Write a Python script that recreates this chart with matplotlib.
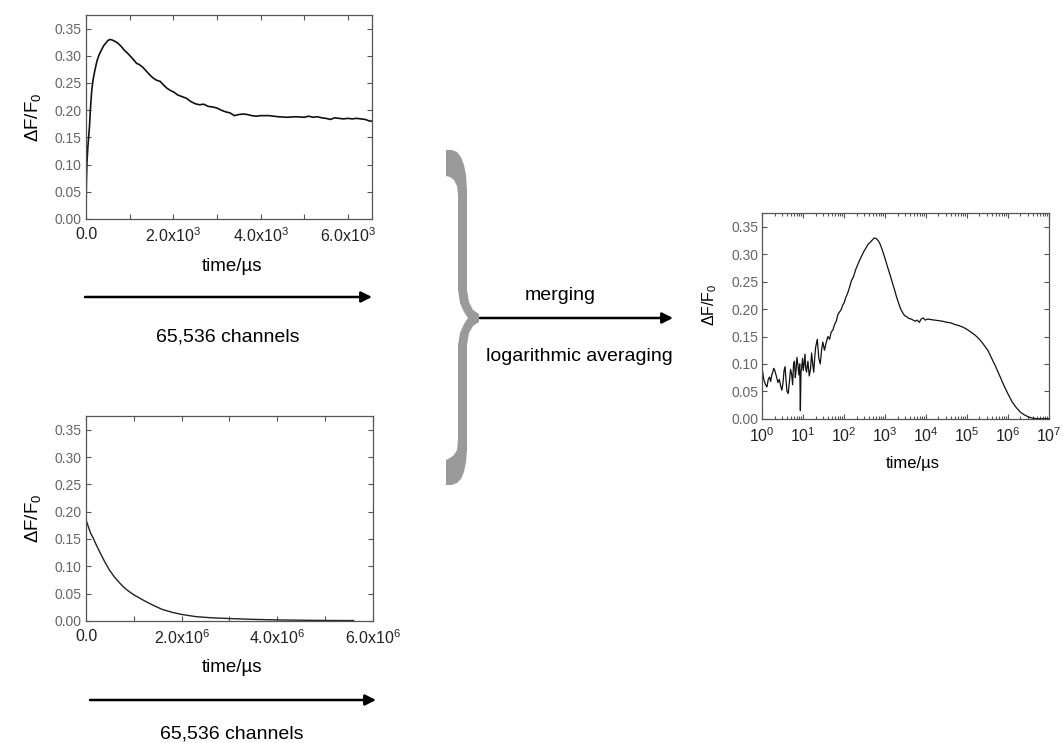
import numpy as np
import matplotlib
matplotlib.use('Agg')
import matplotlib.pyplot as plt
from matplotlib.ticker import FixedLocator, FixedFormatter, LogLocator, NullFormatter, FormatStrFormatter
from matplotlib.path import Path
from matplotlib.patches import PathPatch, FancyArrowPatch

plt.rcParams['font.family'] = ['Liberation Sans', 'DejaVu Sans']
plt.rcParams['mathtext.fontset'] = 'custom'
plt.rcParams['mathtext.rm'] = 'Liberation Sans'
plt.rcParams['mathtext.it'] = 'Liberation Sans:italic'
plt.rcParams['mathtext.default'] = 'regular'

# short time window (top left), time in us
short_t = [0, 10, 20, 40, 60, 80, 100, 130, 160, 200, 250, 300, 350, 400, 450, 500,
           550, 600, 650, 700, 760, 820, 880, 950, 1020, 1100, 1160, 1220, 1300, 1380,
           1460, 1540, 1620, 1700, 1780, 1860, 1940, 2020, 2100, 2200, 2300, 2400, 2500,
           2600, 2700, 2800, 2900, 3000, 3100, 3200, 3300, 3400, 3500, 3600, 3700, 3800,
           3900, 4000, 4200, 4400, 4600, 4800, 5000, 5100, 5200, 5300, 5400, 5500, 5600,
           5700, 5800, 5900, 6000, 6100, 6200, 6300, 6400, 6500, 6553]
short_dff = [0.015, 0.07, 0.10, 0.13, 0.15, 0.17, 0.20, 0.235, 0.255, 0.272, 0.29, 0.302,
             0.31, 0.318, 0.323, 0.328, 0.33, 0.329, 0.327, 0.325, 0.321, 0.316, 0.31, 0.305,
             0.299, 0.292, 0.286, 0.284, 0.279, 0.272, 0.265, 0.259, 0.255, 0.253, 0.246,
             0.24, 0.236, 0.233, 0.228, 0.225, 0.222, 0.216, 0.212, 0.21, 0.211, 0.207,
             0.206, 0.204, 0.20, 0.197, 0.195, 0.19, 0.192, 0.193, 0.192, 0.19, 0.189, 0.19,
             0.19, 0.188, 0.187, 0.188, 0.187, 0.189, 0.187, 0.188, 0.186, 0.185, 0.183,
             0.186, 0.185, 0.184, 0.185, 0.184, 0.185, 0.184, 0.183, 0.18, 0.18]

# long time window (bottom left), time in us
long_t = [0, 0.05e6, 0.1e6, 0.15e6, 0.2e6, 0.3e6, 0.4e6, 0.5e6, 0.6e6, 0.7e6, 0.8e6,
          0.9e6, 1.0e6, 1.2e6, 1.4e6, 1.6e6, 1.8e6, 2.0e6, 2.3e6, 2.6e6, 3.0e6, 3.5e6,
          4.0e6, 4.5e6, 5.0e6, 5.6e6]
long_dff = [0.185, 0.172, 0.16, 0.152, 0.142, 0.124, 0.107, 0.092, 0.08, 0.07, 0.061,
            0.054, 0.048, 0.038, 0.029, 0.021, 0.016, 0.012, 0.008, 0.006, 0.0045, 0.003,
            0.002, 0.0014, 0.001, 0.0008]

# merged, logarithmically averaged trace (right)
merged_t = [1.0, 1.1, 1.2, 1.3, 1.4, 1.5, 1.6, 1.7, 1.8, 1.9, 2.0, 2.2, 2.4, 2.6, 2.8, 3.0,
            3.2, 3.4, 3.6, 3.8, 4.0, 4.3, 4.6, 4.9, 5.2, 5.5, 5.8, 6.1, 6.4, 6.7, 7.0, 7.4,
            7.8, 8.2, 8.5, 8.8, 9.2, 9.6, 10, 10.5, 11, 11.5, 12, 13, 14, 15, 16, 17, 18,
            19, 20, 22, 24, 26, 28, 30, 33, 36, 40, 44, 48, 53, 58, 64, 70, 77, 85, 93, 100,
            110, 120, 135, 150, 170, 190, 210, 240, 270, 300, 340, 380, 430, 480, 540, 600,
            680, 760, 850, 950, 1060, 1200, 1350, 1500, 1700, 1900, 2150, 2400, 2700, 3000,
            3400, 3800, 4300, 4800, 5400, 6000, 6800, 7600, 8500, 9500, 1.1e4, 1.3e4, 1.6e4,
            2e4, 2.5e4, 3.2e4, 4e4, 5e4, 6.3e4, 8e4, 1e5, 1.25e5, 1.6e5, 2e5, 2.5e5, 3.2e5,
            4e5, 5e5, 6.3e5, 8e5, 1e6, 1.25e6, 1.6e6, 2e6, 2.5e6, 3.2e6, 4e6, 5e6, 6.3e6,
            8e6, 1e7]
merged_dff = [0.089, 0.07, 0.062, 0.058, 0.072, 0.076, 0.068, 0.08, 0.085, 0.092, 0.089,
              0.078, 0.066, 0.072, 0.06, 0.052, 0.065, 0.088, 0.095, 0.07, 0.05, 0.046,
              0.068, 0.09, 0.082, 0.062, 0.10, 0.105, 0.075, 0.09, 0.112, 0.098, 0.08, 0.10,
              0.015, 0.085, 0.095, 0.11, 0.088, 0.10, 0.118, 0.092, 0.085, 0.105, 0.078,
              0.09, 0.12, 0.10, 0.085, 0.11, 0.13, 0.145, 0.11, 0.10, 0.125, 0.14, 0.125,
              0.138, 0.15, 0.145, 0.158, 0.162, 0.172, 0.178, 0.19, 0.195, 0.20, 0.208,
              0.212, 0.222, 0.228, 0.24, 0.252, 0.26, 0.272, 0.28, 0.29, 0.298, 0.305, 0.312,
              0.318, 0.322, 0.326, 0.33, 0.329, 0.325, 0.318, 0.308, 0.297, 0.285, 0.272,
              0.26, 0.248, 0.235, 0.222, 0.21, 0.20, 0.193, 0.188, 0.186, 0.183, 0.182, 0.18,
              0.178, 0.18, 0.176, 0.182, 0.184, 0.18, 0.182, 0.181, 0.18, 0.179, 0.178, 0.176,
              0.175, 0.172, 0.17, 0.167, 0.163, 0.158, 0.152, 0.145, 0.136, 0.125, 0.11,
              0.095, 0.078, 0.06, 0.045, 0.031, 0.02, 0.012, 0.007, 0.003, 0.001, 0.0, 0.0,
              0.0, 0.0]

y_ticks = [0.00, 0.05, 0.10, 0.15, 0.20, 0.25, 0.30, 0.35]
short_ticks = [0, 2000, 4000, 6000]
short_labels = ['0.0', '2.0x10$^3$', '4.0x10$^3$', '6.0x10$^3$']
long_ticks = [0, 2e6, 4e6, 6e6]
long_labels = ['0.0', '2.0x10$^6$', '4.0x10$^6$', '6.0x10$^6$']

W, H = 1062, 743


def px(x, y):
    return x / W, 1 - y / H


def box(x0, y0, x1, y1):
    return [x0 / W, 1 - y1 / H, (x1 - x0) / W, (y1 - y0) / H]


def style(ax):
    for s in ax.spines.values():
        s.set_color('#555555')
        s.set_linewidth(0.9)
    ax.tick_params(which='both', direction='in', top=True, right=True,
                   color='#555555', width=0.8, length=3.5)
    ax.tick_params(axis='y', labelsize=10, labelcolor='#666666', pad=3)
    ax.tick_params(axis='x', labelsize=11.5, labelcolor='#222222', pad=5.5)
    ax.set_ylim(0, 0.375)
    ax.yaxis.set_major_locator(FixedLocator(y_ticks))
    ax.yaxis.set_major_formatter(FormatStrFormatter('%.2f'))


fig = plt.figure(figsize=(10.62, 7.43), dpi=100)

# top left: short window
ax1 = fig.add_axes(box(86, 15, 372, 219))
ax1.plot(short_t, short_dff, color='#111111', lw=1.2)
style(ax1)
ax1.set_xlim(0, 6553.6)
ax1.xaxis.set_major_locator(FixedLocator(short_ticks))
ax1.xaxis.set_major_formatter(FixedFormatter(short_labels))
ax1.xaxis.set_minor_locator(FixedLocator([1000, 3000, 5000]))
ax1.set_xlabel('time/µs', fontsize=13.5, va='center')
ax1.xaxis.set_label_coords(0.51, -0.235)
ax1.set_ylabel('ΔF/F$_0$', fontsize=13.5, va='center')
ax1.yaxis.set_label_coords(-0.185, 0.5)

# bottom left: long window
ax2 = fig.add_axes(box(86, 416, 372.7, 621))
ax2.plot(long_t, long_dff, color='#222222', lw=1.0)
style(ax2)
ax2.set_xlim(0, 6e6)
ax2.xaxis.set_major_locator(FixedLocator(long_ticks))
ax2.xaxis.set_major_formatter(FixedFormatter(long_labels))
ax2.xaxis.set_minor_locator(FixedLocator([1e6, 3e6, 5e6]))
ax2.set_xlabel('time/µs', fontsize=13.5, va='center')
ax2.xaxis.set_label_coords(0.51, -0.229)
ax2.set_ylabel('ΔF/F$_0$', fontsize=13.5, va='center')
ax2.yaxis.set_label_coords(-0.185, 0.5)

# right: merged trace on log axis
ax3 = fig.add_axes(box(762.3, 213.3, 1049, 418.7))
ax3.plot(merged_t, merged_dff, color='#111111', lw=0.9)
style(ax3)
ax3.set_xscale('log')
ax3.set_xlim(1, 1e7)
ax3.xaxis.set_major_locator(LogLocator(base=10, numticks=10))
ax3.xaxis.set_minor_locator(LogLocator(base=10, subs=np.arange(2, 10), numticks=20))
ax3.xaxis.set_minor_formatter(NullFormatter())
ax3.tick_params(which='minor', length=2)
ax3.set_xlabel('time/µs', fontsize=12, va='center')
ax3.xaxis.set_label_coords(0.524, -0.216)
ax3.set_ylabel('ΔF/F$_0$', fontsize=11.5, va='center')
ax3.yaxis.set_label_coords(-0.182, 0.553)

# arrows
arrows = [((85, 297), (372, 297)), ((90, 700), (376, 700)), ((480, 318), (673, 318))]
for (x0, y0), (x1, y1) in arrows:
    fig.add_artist(FancyArrowPatch(px(x0, y0), px(x1, y1), transform=fig.transFigure,
                                   arrowstyle='-|>', mutation_scale=16, lw=1.8,
                                   color='black', shrinkA=0, shrinkB=0))

fig.text(*px(227.5, 337), '65,536 channels', fontsize=14, ha='center', va='center')
fig.text(*px(231.7, 734), '65,536 channels', fontsize=14, ha='center', va='center')
fig.text(*px(560, 295), 'merging', fontsize=14, ha='center', va='center')
fig.text(*px(579.5, 356), 'logarithmic averaging', fontsize=14, ha='center', va='center')

# grey curly brace
brace = [(446, 150), (452, 150), (457, 152), (461, 157), (464, 165), (466, 175), (467, 190),
         (467, 290), (469, 302), (473, 310), (479, 314), (479, 322), (473, 326), (469, 333),
         (467, 345), (467, 450), (466, 462), (464, 472), (461, 479), (457, 483), (452, 485),
         (446, 485), (446, 460), (450, 458), (454, 455), (457, 450), (458, 440), (458, 345),
         (460, 333), (464, 324), (468, 318), (464, 312), (460, 303), (458, 290), (458, 195),
         (457, 186), (454, 180), (450, 177), (446, 176)]
verts = [px(x, y) for x, y in brace] + [px(*brace[0])]
codes = [Path.MOVETO] + [Path.LINETO] * (len(brace) - 1) + [Path.CLOSEPOLY]
fig.add_artist(PathPatch(Path(verts, codes), transform=fig.transFigure,
                         facecolor='#9a9a9a', edgecolor='none'))

fig.savefig('out.png', dpi=100)
